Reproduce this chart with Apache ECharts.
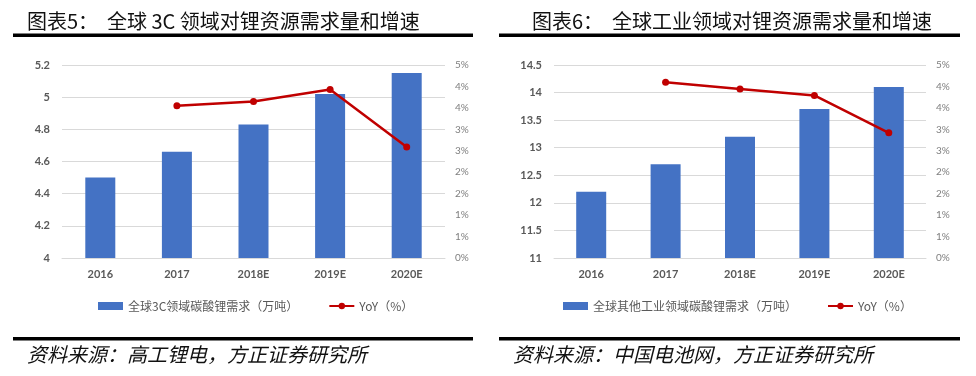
<!DOCTYPE html>
<html><head><meta charset="utf-8">
<script src="https://cdn.jsdelivr.net/npm/echarts@6/dist/echarts.min.js"></script>
<style>html,body{margin:0;padding:0;background:#fff}#c{width:976px;height:376px}</style>
</head><body><div id="c"></div>
<script>
const categories = ['2016', '2017', '2018E', '2019E', '2020E'];
const demand3C = [4.5, 4.66, 4.83, 5.02, 5.15];
const yoy3C = [null, 3.55, 3.65, 3.93, 2.59];
const demandInd = [12.2, 12.7, 13.2, 13.7, 14.1];
const yoyInd = [null, 4.1, 3.94, 3.79, 2.92];
const name3C = '全球3C领域碳酸锂需求（万吨）';
const nameInd = '全球其他工业领域碳酸锂需求（万吨）';
const nameYoY = 'YoY（%）';
const titleL = ['图表5：', '全球 3C 领域对锂资源需求量和增速'];
const titleR = ['图表6：', '全球工业领域对锂资源需求量和增速'];
const srcL = '资料来源：高工锂电，方正证券研究所';
const srcR = '资料来源：中国电池网，方正证券研究所';

const CJK = '"Noto Sans CJK SC", sans-serif';
const LAT = 'Lato, "Open Sans", sans-serif';
const grid = '#d9d9d9';

function xAx(gi) {
  return {
    type: 'category', gridIndex: gi, data: categories,
    axisLine: { lineStyle: { color: grid } }, axisTick: { show: false },
    axisLabel: { color: '#595959', fontFamily: LAT, fontWeight: 'bold', fontSize: 11, margin: 11 }
  };
}
function yLeft(gi, min, max, iv) {
  return {
    type: 'value', gridIndex: gi, min: min, max: max, interval: iv, position: 'left',
    axisLine: { show: false }, axisTick: { show: false },
    splitLine: { lineStyle: { color: grid, width: 1 } },
    axisLabel: { color: '#595959', fontFamily: LAT, fontWeight: 'bold', fontSize: 11, margin: 12 }
  };
}
function yRight(gi) {
  return {
    type: 'value', gridIndex: gi, min: 0, max: 4.5, interval: 0.5, position: 'right',
    axisLine: { show: false }, axisTick: { show: false }, splitLine: { show: false },
    axisLabel: { color: '#7f7f7f', fontFamily: LAT, fontSize: 10, margin: 10,
      formatter: v => Math.round(v) + '%' }
  };
}
function bar(name, xi, yi, data) {
  return { name: name, type: 'bar', xAxisIndex: xi, yAxisIndex: yi, data: data,
    barWidth: 30, itemStyle: { color: '#4472C4' }, silent: true };
}
function line(xi, yi, data) {
  return { name: nameYoY, type: 'line', xAxisIndex: xi, yAxisIndex: yi, data: data,
    symbol: 'circle', symbolSize: 7, lineStyle: { color: '#C00000', width: 2.5 },
    itemStyle: { color: '#C00000' }, connectNulls: false, silent: true };
}
function txt(x, y, s, size, italic) {
  return { type: 'text', left: x, top: y, style: { text: s, fontFamily: CJK,
    fontSize: size, fill: '#111', fontStyle: italic ? 'italic' : 'normal' } };
}
function rule(x1, x2, y) {
  return { type: 'rect', shape: { x: x1, y: y, width: x2 - x1, height: 3.5 }, style: { fill: '#000' } };
}
const legText = { color: '#595959', fontFamily: CJK, fontSize: 12 };

const chart = echarts.init(document.getElementById('c'), null, { renderer: 'canvas' });
chart.setOption({
  animation: false,
  grid: [
    { left: 62, top: 65, width: 383, height: 193 },
    { left: 554, top: 65, width: 372, height: 193 }
  ],
  xAxis: [xAx(0), xAx(1)],
  yAxis: [yLeft(0, 4, 5.2, 0.2), yRight(0), yLeft(1, 11, 14.5, 0.5), yRight(1)],
  legend: [
    { left: 93, top: 295, itemGap: 30, itemWidth: 25, itemHeight: 8, textStyle: legText,
      data: [{ name: name3C, icon: 'rect' }, { name: nameYoY }] },
    { left: 558, top: 295, itemGap: 30, itemWidth: 25, itemHeight: 8, textStyle: legText,
      data: [{ name: nameInd, icon: 'rect' }, { name: nameYoY }] }
  ],
  series: [
    bar(name3C, 0, 0, demand3C), line(0, 1, yoy3C),
    bar(nameInd, 1, 2, demandInd), line(1, 3, yoyInd)
  ],
  graphic: [
    txt(27, 11, titleL[0], 20), txt(107, 11, titleL[1], 20),
    txt(532, 11, titleR[0], 20), txt(612, 11, titleR[1], 20),
    rule(13, 473, 33.5), rule(499, 960, 33.5),
    rule(13, 473, 337), rule(499, 960, 337),
    txt(27, 344, srcL, 20, true), txt(513, 344, srcR, 20, true)
  ]
});
</script></body></html>
